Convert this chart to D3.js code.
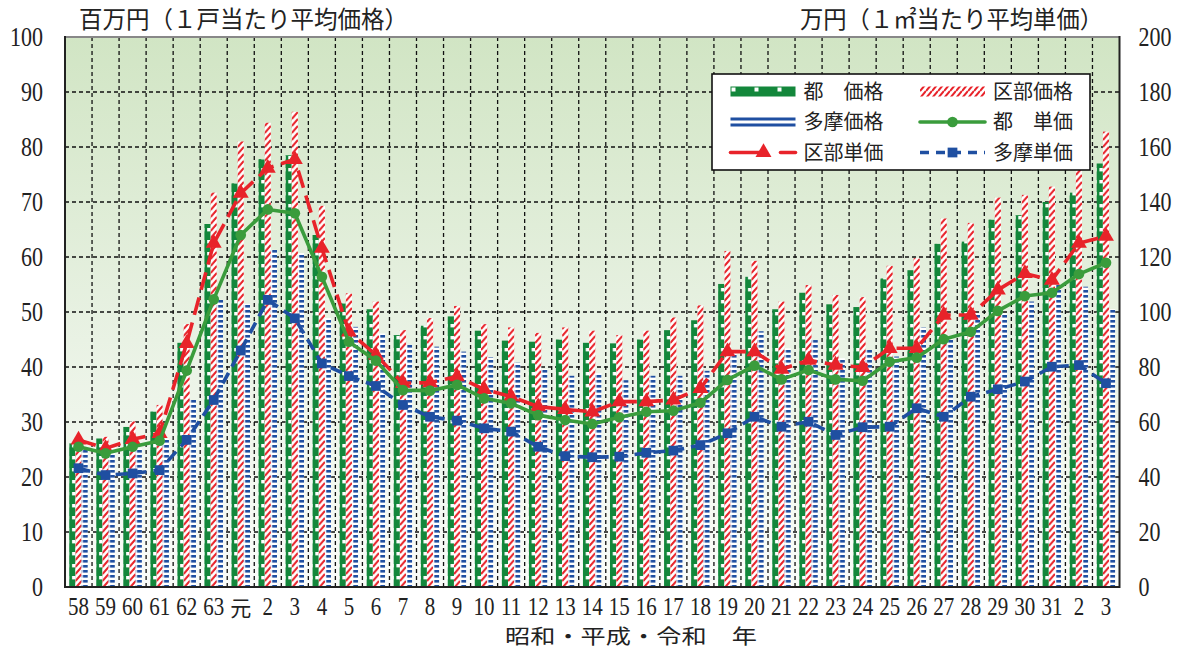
<!DOCTYPE html>
<html><head><meta charset="utf-8">
<script src="https://cdn.jsdelivr.net/npm/d3@7"></script>
<style>body{margin:0;background:#fff}</style>
</head><body><svg id="c" width="1184" height="651" xmlns="http://www.w3.org/2000/svg"></svg>
<script>
const categories = ['58','59','60','61','62','63','元','2','3','4','5','6','7','8','9','10','11','12','13','14','15','16','17','18','19','20','21','22','23','24','25','26','27','28','29','30','31','2','3'];
// 百万円（1戸当たり平均価格）
const toPrice   = [26.1,27.0,29.1,31.9,44.4,66.0,73.4,77.8,78.5,64.0,51.6,50.5,45.8,47.5,49.2,46.6,44.8,44.6,45.0,44.4,44.3,45.0,46.7,48.5,55.1,56.4,50.5,53.5,51.4,50.9,56.1,57.6,62.4,62.8,66.8,67.6,70.0,71.7,77.0];
const kuPrice   = [27.0,27.3,30.1,33.1,47.8,71.7,81.0,84.4,86.4,69.3,53.4,51.9,46.7,48.9,51.1,47.8,47.2,46.2,47.2,46.6,45.8,46.6,49.0,51.2,61.1,59.3,51.9,54.9,53.1,52.7,58.4,59.8,67.0,66.2,70.8,71.3,72.8,75.9,82.8];
const tamaPrice = [25.0,25.3,25.2,27.0,34.0,52.2,51.5,61.3,60.7,48.9,47.3,46.1,44.0,43.7,42.8,41.8,40.8,39.6,38.4,38.9,37.6,38.4,38.4,39.3,42.5,46.5,43.4,44.9,41.6,43.1,41.9,47.2,45.0,49.8,49.8,51.9,54.9,54.6,50.5];
// 万円（1㎡当たり平均単価）
const toUnit    = [51.0,48.6,51.0,53.2,78.7,104.6,128.0,137.3,135.9,112.8,89.2,82.3,71.6,71.4,73.5,68.6,66.8,62.5,60.7,59.3,61.7,63.7,64.1,67.0,75.3,80.5,75.5,78.9,75.5,75.0,81.9,83.4,90.1,92.8,100.4,105.8,107.0,113.8,117.9];
const kuUnit    = [53.5,50.4,53.7,55.9,88.6,125.0,143.2,152.3,155.5,123.2,92.8,84.4,74.1,74.3,76.5,71.9,69.2,65.6,64.6,63.7,67.4,67.4,68.0,72.2,85.6,85.6,79.2,82.5,80.7,79.9,86.8,86.8,98.9,98.9,108.0,114.0,111.6,125.0,127.6];
const tamaUnit  = [43.2,40.7,41.3,42.5,53.5,68.0,86.0,104.4,97.7,81.3,76.7,73.1,66.2,61.9,60.5,57.7,56.5,51.0,47.6,47.2,47.4,48.8,49.6,51.6,55.9,61.9,58.3,60.1,55.3,58.1,58.3,65.0,61.9,69.2,71.9,74.7,80.1,80.7,74.1];
const leftTicks  = [0,10,20,30,40,50,60,70,80,90,100];
const rightTicks = [0,20,40,60,80,100,120,140,160,180,200];
const leftTitle  = '百万円（１戸当たり平均価格）';
const rightTitle = '万円（１㎡当たり平均単価）';
const xTitle     = '昭和・平成・令和　年';
const legendLabels = ['都　価格','区部価格','多摩価格','都　単価','区部単価','多摩単価'];

const NUM = "'Liberation Serif','Times New Roman',serif";
const JP  = "'Noto Sans CJK JP','Noto Sans CJK SC',sans-serif";
const GREEN='#13873b', LGREEN='#3a9c3c', RED='#e8232a', BLUE='#1f4fa1';

const svg = d3.select('#c');
const L=65, R=1119.5, T=37, B=587;
const x  = d3.scaleBand().domain(d3.range(categories.length)).range([L,R]);
const yL = d3.scaleLinear().domain([0,100]).range([B,T]);
const yR = d3.scaleLinear().domain([0,200]).range([B,T]);
const bw = x.bandwidth();
const barW = 6.2, off = (bw-3*barW)/2;

const defs = svg.append('defs');
const grad = defs.append('linearGradient').attr('id','bg').attr('x1',0).attr('y1',0).attr('x2',0).attr('y2',1);
grad.append('stop').attr('offset','0%').attr('stop-color','#d1e5c4');
grad.append('stop').attr('offset','55%').attr('stop-color','#e9f2e4');
grad.append('stop').attr('offset','100%').attr('stop-color','#fafcf9');

function makePattern(id, kind, px, w){
  if(kind===0){
    const p = defs.append('pattern').attr('id',id).attr('patternUnits','userSpaceOnUse').attr('x',px).attr('y',0).attr('width',w).attr('height',12);
    p.append('rect').attr('width',w).attr('height',12).attr('fill',GREEN);
    p.append('rect').attr('x',w*0.45).attr('y',0).attr('width',w*0.55).attr('height',3.4).attr('fill','#fff');
  } else if(kind===1){
    const h=7;
    const p = defs.append('pattern').attr('id',id).attr('patternUnits','userSpaceOnUse').attr('x',px).attr('y',0).attr('width',w).attr('height',h);
    p.append('rect').attr('width',w).attr('height',h).attr('fill','#fff');
    p.append('path').attr('d',`M0,${h} L${w},0 M0,0 L${w},${-h} M0,${2*h} L${w},${h}`).attr('stroke',RED).attr('stroke-width',2.1);
  } else {
    const p = defs.append('pattern').attr('id',id).attr('patternUnits','userSpaceOnUse').attr('x',px).attr('y',0).attr('width',w).attr('height',5);
    p.append('rect').attr('width',w).attr('height',5).attr('fill','#fff');
    p.append('rect').attr('x',1.2).attr('y',0).attr('width',w-1.2).attr('height',2.6).attr('fill',BLUE);
  }
}

// background
svg.append('rect').attr('x',L).attr('y',T).attr('width',R-L).attr('height',B-T).attr('fill','url(#bg)');

// grid
const grid = svg.append('g');
grid.selectAll('line.h').data(leftTicks.filter(v=>v>0&&v<100)).join('line').attr('class','h')
  .attr('x1',L).attr('x2',R).attr('y1',d=>yL(d)).attr('y2',d=>yL(d))
  .attr('stroke','#111').attr('stroke-width',1.3).attr('stroke-dasharray','4,3');
grid.selectAll('line.v').data(d3.range(1,categories.length)).join('line').attr('class','v')
  .attr('x1',i=>x(i)).attr('x2',i=>x(i)).attr('y1',T).attr('y2',B)
  .attr('stroke','#111').attr('stroke-width',1.3).attr('stroke-dasharray','4,3');

// bars
const barSeries = [toPrice, kuPrice, tamaPrice];
barSeries.forEach((vals,si)=>{
  vals.forEach((v,i)=> makePattern(`p${si}_${i}`, si, x(i)+off+si*barW, barW));
  svg.append('g').selectAll('rect').data(vals).join('rect')
    .attr('x',(d,i)=>x(i)+off+si*barW).attr('width',barW)
    .attr('y',d=>yL(d)).attr('height',d=>B-yL(d))
    .attr('fill',(d,i)=>`url(#p${si}_${i})`);
});

// lines
const cx = i => x(i)+bw/2;
const line = d3.line().x((d,i)=>cx(i)).y(d=>yR(d));
function drawLine(vals, color, dash, symbol, size){
  const g = svg.append('g');
  g.append('path').attr('d',line(vals)).attr('fill','none').attr('stroke',color)
    .attr('stroke-width',3.6).attr('stroke-dasharray',dash).attr('stroke-linejoin','round');
  g.selectAll('path.m').data(vals).join('path').attr('class','m')
    .attr('transform',(d,i)=>`translate(${cx(i)},${yR(d)})`)
    .attr('d',d3.symbol().type(symbol).size(size)).attr('fill',color);
}
drawLine(tamaUnit, BLUE, '12,7', d3.symbolSquare, 95);
drawLine(kuUnit, RED, '18,8', d3.symbolTriangle, 110);
drawLine(toUnit, LGREEN, null, d3.symbolCircle, 90);

// frame
svg.append('line').attr('x1',L).attr('x2',R).attr('y1',T).attr('y2',T).attr('stroke','#888').attr('stroke-width',2);
svg.append('path').attr('d',`M${L},${T-1} V${B} H${R} V${T-1}`).attr('fill','none').attr('stroke','#222').attr('stroke-width',2);

// axes
const axL = svg.append('g').attr('transform',`translate(${L},0)`)
  .call(d3.axisLeft(yL).tickValues(leftTicks).tickSize(0).tickPadding(22));
axL.select('.domain').remove();
axL.selectAll('text').attr('font-family',NUM).attr('font-size',22).attr('fill','#222').attr('transform','scale(1,1.25)');

const axR = svg.append('g').attr('transform',`translate(${R},0)`)
  .call(d3.axisRight(yR).tickValues(rightTicks).tickSize(0).tickPadding(19));
axR.select('.domain').remove();
axR.selectAll('text').attr('font-family',NUM).attr('font-size',22).attr('fill','#222').attr('transform','scale(1,1.25)');

const axB = svg.append('g').attr('transform',`translate(0,${B})`)
  .call(d3.axisBottom(x).tickFormat(i=>categories[i]).tickSize(0));
axB.select('.domain').remove();
axB.selectAll('text').attr('y',0).attr('dy','0.35em').attr('fill','#222')
  .attr('font-family',d=>categories[d]==='元'?JP:NUM)
  .attr('font-size',21)
  .attr('transform',d=>categories[d]==='元'?'translate(0,21) scale(1,1.05)':'translate(0,19.5) scale(1,1.22)');

// titles
function jpText(t, xx, yy, len, sy, fs){
  svg.append('text').attr('transform',`translate(${xx},${yy}) scale(1,${sy})`)
    .attr('font-family',JP).attr('font-size',fs).attr('fill','#222')
    .attr('textLength',len).attr('lengthAdjust','spacingAndGlyphs').text(t);
}
jpText(leftTitle, 79, 28, 329, 1.12, 21);
jpText(rightTitle, 800, 28, 303, 1.12, 21);
jpText(xTitle, 505, 644, 252, 1, 20);

// legend
const lg = svg.append('g');
lg.append('rect').attr('x',712).attr('y',74).attr('width',378).attr('height',96)
  .attr('fill','#fff').attr('stroke','#111').attr('stroke-width',1.6);
const rows=[91.5,122,152.5], c1=730.5, c2=920, sw=65;
// 都価格
lg.append('rect').attr('x',c1).attr('y',rows[0]-5).attr('width',sw).attr('height',10).attr('fill',GREEN);
[0,1,2].forEach(k=>lg.append('rect').attr('x',c1+1+k*23).attr('y',rows[0]-4).attr('width',4).attr('height',4).attr('fill','#fff'));
// 区部価格
makePattern('legRed',1,c2,6);
lg.append('rect').attr('x',c2).attr('y',rows[0]-5).attr('width',sw).attr('height',10).attr('fill','url(#legRed)');
// 多摩価格
lg.append('line').attr('x1',c1).attr('x2',c1+sw).attr('y1',rows[1]-3).attr('y2',rows[1]-3).attr('stroke',BLUE).attr('stroke-width',3);
lg.append('line').attr('x1',c1).attr('x2',c1+sw).attr('y1',rows[1]+3).attr('y2',rows[1]+3).attr('stroke',BLUE).attr('stroke-width',3);
// 都単価
lg.append('line').attr('x1',c2).attr('x2',c2+sw).attr('y1',rows[1]).attr('y2',rows[1]).attr('stroke',LGREEN).attr('stroke-width',3.6).attr('stroke-linecap','round');
lg.append('path').attr('transform',`translate(${c2+sw/2},${rows[1]})`).attr('d',d3.symbol().type(d3.symbolCircle).size(90)).attr('fill',LGREEN);
// 区部単価
lg.append('line').attr('x1',c1).attr('x2',c1+34).attr('y1',rows[2]).attr('y2',rows[2]).attr('stroke',RED).attr('stroke-width',3.6).attr('stroke-linecap','round');
lg.append('line').attr('x1',c1+50).attr('x2',c1+sw).attr('y1',rows[2]).attr('y2',rows[2]).attr('stroke',RED).attr('stroke-width',3.6).attr('stroke-linecap','round');
lg.append('path').attr('transform',`translate(${c1+33},${rows[2]})`).attr('d',d3.symbol().type(d3.symbolTriangle).size(110)).attr('fill',RED);
// 多摩単価
lg.append('line').attr('x1',c2).attr('x2',c2+sw).attr('y1',rows[2]).attr('y2',rows[2]).attr('stroke',BLUE).attr('stroke-width',3.6).attr('stroke-dasharray','9,7');
lg.append('path').attr('transform',`translate(${c2+sw/2},${rows[2]})`).attr('d',d3.symbol().type(d3.symbolSquare).size(95)).attr('fill',BLUE);
// labels
const lpos = [[c1+sw+8,rows[0]],[c2+sw+8,rows[0]],[c1+sw+8,rows[1]],[c2+sw+8,rows[1]],[c1+sw+8,rows[2]],[c2+sw+8,rows[2]]];
lg.selectAll('text').data(legendLabels).join('text')
  .attr('x',(d,i)=>lpos[i][0]).attr('y',(d,i)=>lpos[i][1]).attr('dy','0.36em')
  .attr('font-family',JP).attr('font-size',20).attr('fill','#222').text(d=>d);
</script></body></html>
